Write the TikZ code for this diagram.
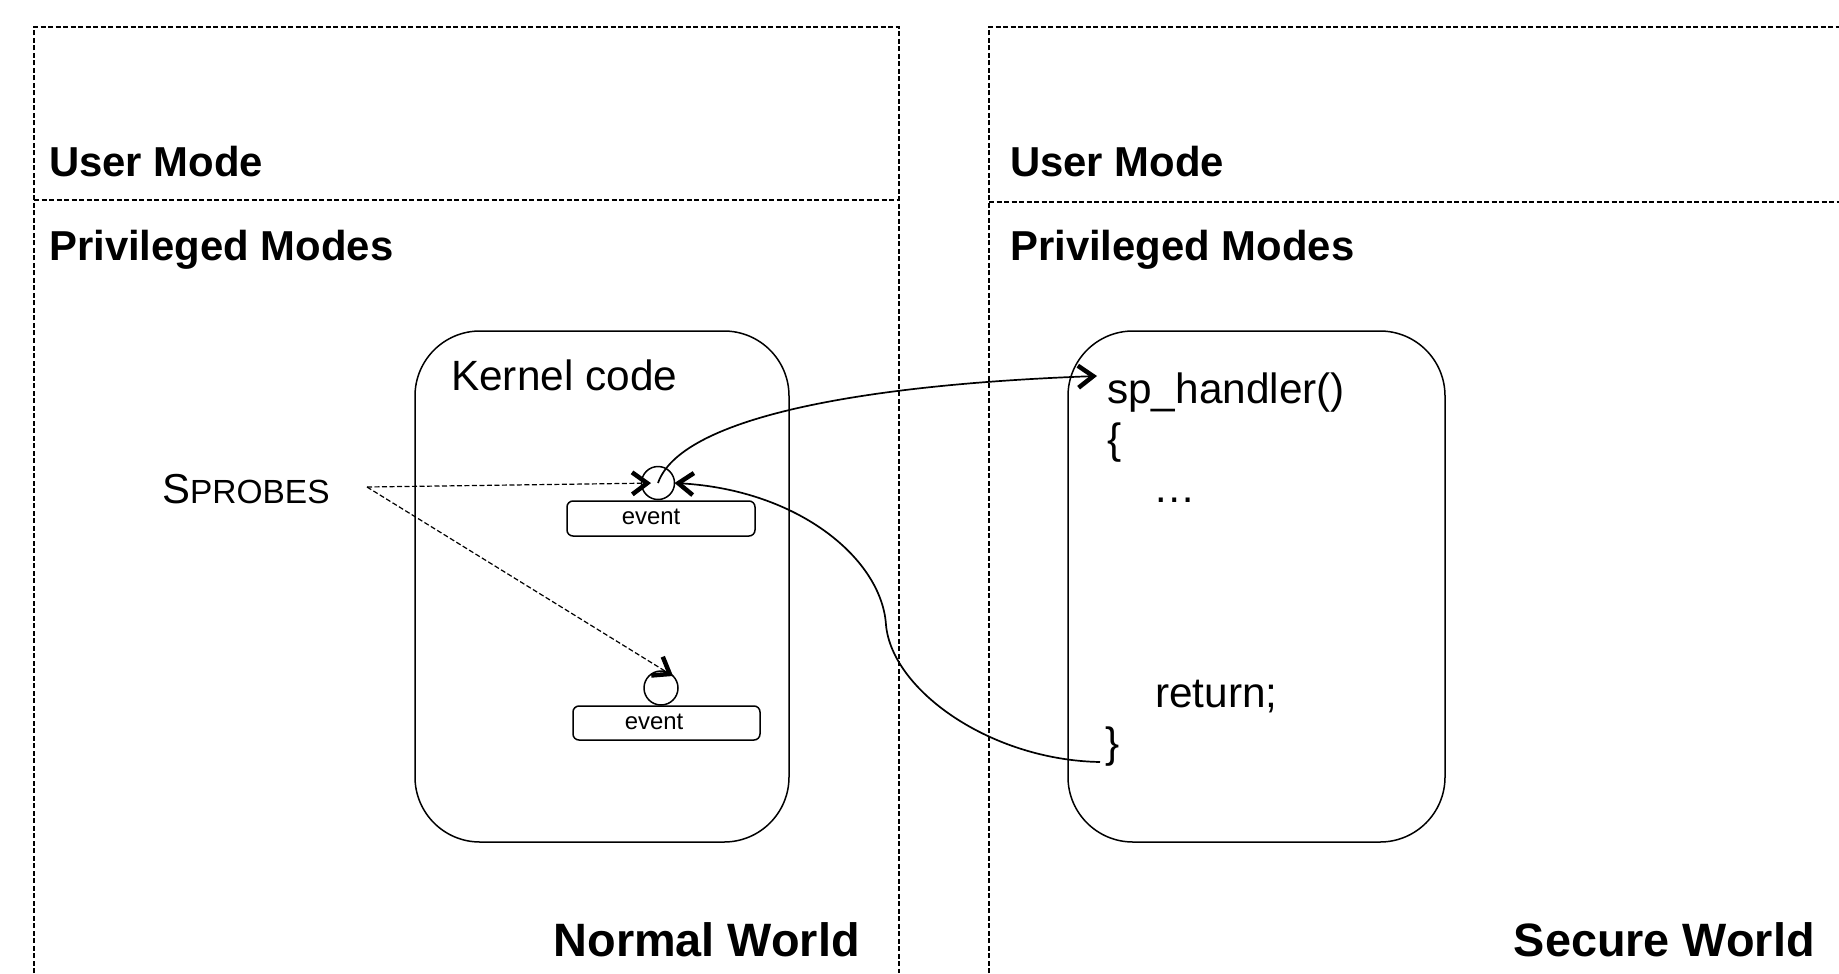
\documentclass[tikz,border=0pt]{standalone}
\usepackage{fontspec}
\setmainfont{Liberation Sans}
\usetikzlibrary{arrows.meta}
\begin{document}
\begin{tikzpicture}[x=1bp,y=-1bp,
  outer/.style={line width=1.5bp, dash pattern=on 5bp off 2.5bp},
  lbl/.style={font=\fontsize{42}{50}\selectfont\bfseries, anchor=base west, inner sep=0},
  world/.style={font=\fontsize{47}{56}\selectfont\bfseries, anchor=base east, inner sep=0},
  code/.style={font=\fontsize{42.5}{50}\selectfont, anchor=base west, inner sep=0},
  rbox/.style={draw, line width=1.5bp, rounded corners=65bp, inner sep=0, outer sep=0},
  evbox/.style={draw, line width=1.5bp, rounded corners=6bp, inner sep=0, outer sep=0},
  evtext/.style={font=\fontsize{24}{28}\selectfont, inner sep=0},
  probe/.style={draw, circle, line width=1.5bp, inner sep=0, outer sep=0},
  barb/.style={-{Straight Barb[length=15bp,width=22bp,line width'=4.5bp]}},
  dline/.style={line width=1.2bp, dash pattern=on 5bp off 2.5bp, barb},
  sline/.style={line width=1.7bp, barb}]
\useasboundingbox (0,0) rectangle (1839,973);

% outer world boxes
\draw[outer] (34,973) -- (34,27) -- (899,27) -- (899,973);
\draw[outer] (34,200) -- (899,200);
\draw[outer] (989,973) -- (989,27) -- (1839,27);
\draw[outer] (989,202) -- (1839,202);

\node[lbl] (um1) at (49,176) {User Mode};
\node[lbl] (pm1) at (49,260) {Privileged Modes};
\node[lbl] (um2) at (1010,176) {User Mode};
\node[lbl] (pm2) at (1010,260) {Privileged Modes};
\node[world] (nw) at (860,956) {Normal World};
\node[world] (sw) at (1815,956) {Secure World};

% kernel box
\node[rbox, minimum width=374bp, minimum height=511bp] (kern) at (602,586.5) {};
\node[code] (kc) at (451,390) {Kernel code};
\node[evbox, minimum width=188bp, minimum height=35bp] (ev1) at (661,518.5) {};
\node[evtext] (ev1t) at (651,517) {event};
\node[evbox, minimum width=187bp, minimum height=34bp] (ev2) at (666.5,723) {};
\node[evtext] (ev2t) at (654,722) {event};
\node[probe, minimum size=33bp] (c1) at (658,483) {};
\node[probe, minimum size=34bp] (c2) at (661,688) {};

% secure box
\node[rbox, minimum width=377bp, minimum height=511bp] (sec) at (1256.5,586.5) {};
\node[code] (sph) at (1107,403) {sp\_handler()};
\node[code] (lb) at (1107,453) {\{};
\node[code] (dots) at (1153,502) {…};
\node[code] (ret) at (1155,707) {return;};
\node[code] (rb) at (1105,757) {\}};

% SPROBES
\node[anchor=base west, inner sep=0] (spr) at (162,503) {\fontsize{42}{50}\selectfont S\fontsize{33.6}{40}\selectfont PROBES};
\coordinate (sp) at (367,487);
\coordinate (hin) at (1097,376);
\coordinate (rout) at (1100,762);
\coordinate (mid) at (886,625);

\draw[dline, shorten >=7bp] (sp) -- (c1.center);
\draw[dline] (sp) -- (c2.north east);

\draw[sline] (c1.center) .. controls (680,420) and (850,385) .. (hin);
\draw[sline] (rout) .. controls (990,760) and (892,690) .. (mid)
  .. controls (882,560) and (800,490) .. (c1.east);
\end{tikzpicture}
\end{document}
